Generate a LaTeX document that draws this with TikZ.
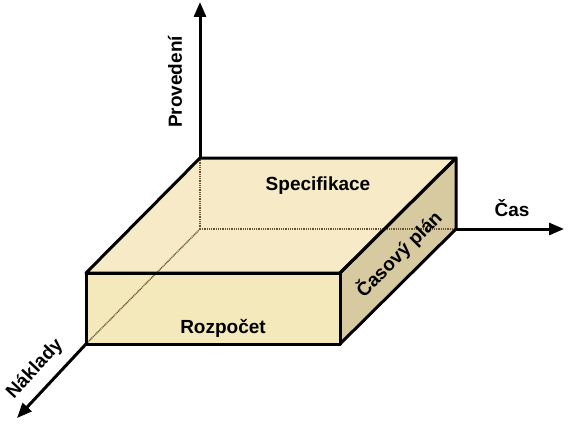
\documentclass[tikz,border=0pt]{standalone}
\usepackage{fontspec}
\setmainfont{Liberation Sans}
\usetikzlibrary{arrows.meta}

\definecolor{topface}{RGB}{247,234,198}
\definecolor{frontface}{RGB}{243,233,186}
\definecolor{sideface}{RGB}{216,202,160}
\definecolor{hiddenline}{RGB}{105,80,50}

\tikzset{
    axis/.style={line width=3pt, -{Triangle[length=15pt, width=12pt]}},
    edge/.style={line width=3pt, line join=round},
    hidden/.style={line width=1.4pt, hiddenline, dash pattern=on 1pt off 0.8pt},
    label/.style={font=\fontsize{19}{21}\selectfont\bfseries, inner sep=0pt}
}

\begin{document}
\begin{tikzpicture}[x=1pt, y=1pt]
    \useasboundingbox (0,0) rectangle (578,424);

    % Corners of the box
    \coordinate (o) at (200,195);
    \coordinate (btl) at (200,266);
    \coordinate (btr) at (456,266);
    \coordinate (bbr) at (456,195);
    \coordinate (ftl) at (86,151);
    \coordinate (ftr) at (340,151);
    \coordinate (fbl) at (86,80);
    \coordinate (fbr) at (340,80);

    % Axis tips
    \coordinate (ytip) at (200,422);
    \coordinate (xtip) at (564,195);
    \coordinate (ztip) at (17,6);

    % Box faces
    \fill[topface] (ftl) -- (btl) -- (btr) -- (ftr) -- cycle;
    \fill[frontface] (fbl) -- (ftl) -- (ftr) -- (fbr) -- cycle;
    \fill[sideface] (fbr) -- (ftr) -- (btr) -- (bbr) -- cycle;

    % Hidden edges
    \draw[hidden] (btl) -- (o);
    \draw[hidden] (o) -- (bbr);
    \draw[hidden] (o) -- (fbl);

    % Visible edges
    \draw[edge] (ftl) -- (btl) -- (btr) -- (ftr) -- cycle;
    \draw[edge] (fbl) -- (ftl) -- (ftr) -- (fbr) -- cycle;
    \draw[edge] (ftr) -- (btr) -- (bbr) -- (fbr);

    % Axes
    \draw[axis] (btl) -- (ytip);
    \draw[axis] (bbr) -- (xtip);
    \draw[axis] (fbl) -- (ztip);

    % Labels
    \node[label] (spec) at (318,238) {Specifikace};
    \node[label] (budget) at (223,96) {Rozpočet};
    \node[label, rotate=45] (plan) at (399,170) {Časový plán};
    \node[label] (time) at (512,216) {Čas};
    \node[label, rotate=90] (perf) at (175,342) {Provedení};
    \node[label, rotate=47] (cost) at (35,55) {Náklady};
\end{tikzpicture}
\end{document}
